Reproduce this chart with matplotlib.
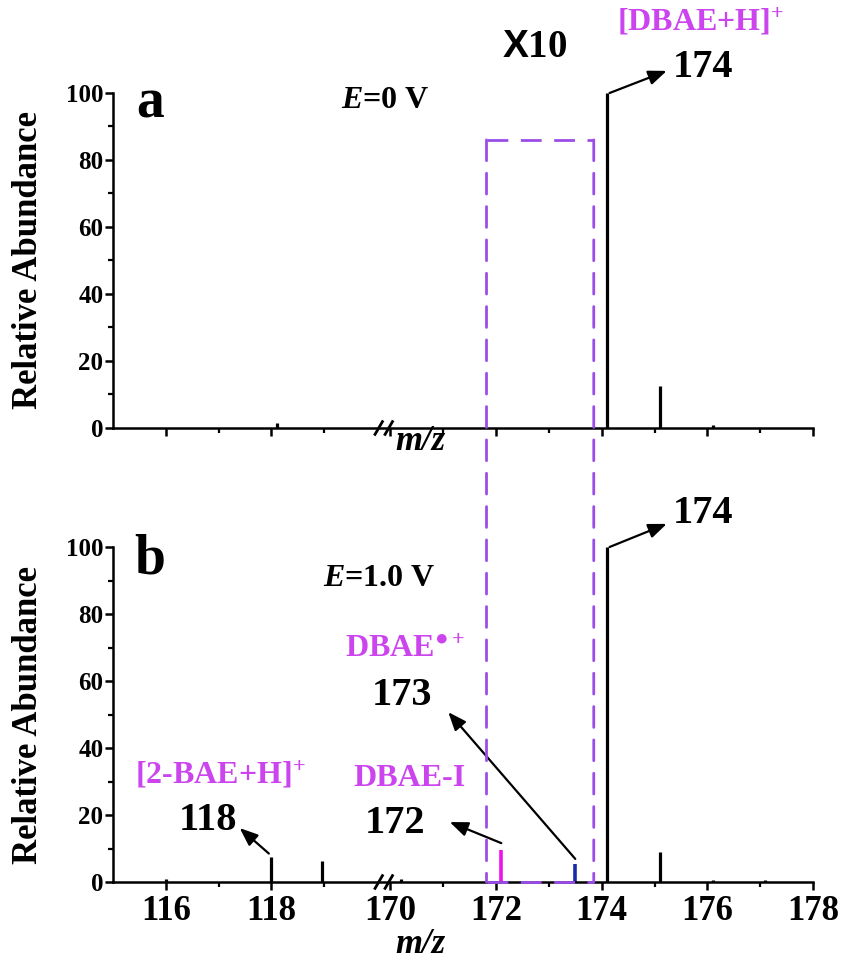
import numpy as np
import matplotlib
matplotlib.use("Agg")
import matplotlib.pyplot as plt
from matplotlib.patches import ConnectionPatch
from matplotlib.ticker import FixedLocator, MultipleLocator

plt.rcParams.update({
    "font.family": "Liberation Serif", "font.weight": "bold",
    "mathtext.fontset": "custom",
    "mathtext.rm": "Liberation Serif:bold",
    "mathtext.it": "Liberation Serif:italic:bold",
    "mathtext.bf": "Liberation Serif:bold",
    "mathtext.sf": "Liberation Sans:bold",
    "axes.linewidth": 1.8,
})

TOP_MZ = [118.1, 174.1, 175.1, 176.1]
TOP_INT = [1.5, 100.0, 12.5, 1.0]
BOT_MZ = [116.0, 118.0, 118.95, 170.2, 174.1, 175.1, 176.1, 177.1]
BOT_INT = [0.8, 7.5, 6.3, 0.8, 100.0, 9.0, 0.6, 0.5]
X10_MZ = [172.1, 173.5]          # picos dentro de la zona x10
X10_INT = [9.6, 5.4]
X10_COLORS = ["#f010e8", "#1a2aa8"]
BOX_LEFT, BOX_RIGHT, BOX_TOP = 171.82, 173.85, 86.0
MAJOR = [116, 118, 170, 172, 174, 176, 178]
MINOR = [117, 119, 171, 173, 175, 177]
YTICKS = [0, 20, 40, 60, 80, 100]

MAG = "#cc44ee"
PURPLE = "#9b4de8"
DASH = (0, (7.5, 4.5))
GAP = 0.25


def pos(m):
    """eje roto: 115-120 | 170-178"""
    m = np.asarray(m, float)
    return np.where(m < 145, m - 115, m - 170 + 5 + GAP)


fig = plt.figure(figsize=(8.47, 9.65), dpi=100)
ax1 = fig.add_axes([113 / 847, 1 - 428 / 965, 700 / 847, 335 / 965])
ax2 = fig.add_axes([113 / 847, 1 - 882 / 965, 700 / 847, 335 / 965])

for ax in (ax1, ax2):
    ax.spines[["top", "right"]].set_visible(False)
    ax.set_xlim(0, float(pos(178)))
    ax.set_ylim(0, 100)
    ax.xaxis.set_major_locator(FixedLocator(pos(MAJOR)))
    ax.xaxis.set_minor_locator(FixedLocator(pos(MINOR)))
    ax.set_xticklabels([str(v) for v in MAJOR])
    ax.set_yticks(YTICKS)
    ax.yaxis.set_minor_locator(MultipleLocator(10))
    ax.tick_params(which="major", direction="out", length=6, width=1.8)
    ax.tick_params(which="minor", direction="out", length=3.5, width=1.6)
    ax.tick_params(axis="y", labelsize=18, pad=1)
    ax.tick_params(axis="x", labelsize=25, pad=3)
    ax.text(-0.121, 0.5, "Relative Abundance", transform=ax.transAxes, rotation=90,
            ha="center", va="center", fontsize=25)
    # marcas de corte //
    for p in (5.03, 5.22):
        ax.plot([p - 0.07, p + 0.07], [-1.9, 1.9], color="k", lw=2.0,
                clip_on=False, zorder=5)
ax1.tick_params(labelbottom=False)

# picos
ax1.vlines(pos(TOP_MZ), 0, TOP_INT, color="k", lw=2.3)
ax2.vlines(pos(BOT_MZ), 0, BOT_INT, color="k", lw=2.3)
ax2.vlines(pos(X10_MZ), 0, X10_INT, colors=X10_COLORS, lw=2.6)

# recuadro x10 que cruza ambos paneles
for xb in (BOX_LEFT, BOX_RIGHT):
    cp = ConnectionPatch(xyA=(float(pos(xb)), BOX_TOP), coordsA=ax1.transData,
                         xyB=(float(pos(xb)), 0), coordsB=ax2.transData,
                         color=PURPLE, lw=2.0, linestyle=DASH, zorder=6)
    fig.add_artist(cp)
ax1.plot(pos([BOX_LEFT, BOX_RIGHT]), [BOX_TOP, BOX_TOP], color=PURPLE, lw=2.0,
         ls=DASH, clip_on=False)
ax2.plot(pos([BOX_LEFT, BOX_RIGHT]), [0, 0], color=PURPLE, lw=2.0, ls=DASH,
         clip_on=False, zorder=4)

AP = dict(arrowstyle="-|>,head_length=0.55,head_width=0.22", color="k", lw=1.6,
          shrinkA=0, shrinkB=0, mutation_scale=20)


def arrow(ax, tail, head):
    ax.annotate("", xy=head, xycoords="axes fraction", xytext=tail,
                textcoords="data", arrowprops=AP, annotation_clip=False)


def label(ax, x, y, s, size, color="k", ha="center", **kw):
    ax.text(x, y, s, transform=ax.transAxes, fontsize=size, color=color,
            ha=ha, va="center", **kw)


# ---- panel a ----
label(ax1, 0.053, 0.97, "a", 40)
label(ax1, 0.389, 0.979, "$E$=0 V", 23)
label(ax1, 0.603, 1.137, r"$\mathsf{X}$10", 28)
label(ax1, 0.839, 1.212, "[DBAE+H]$^{+}$", 23, MAG)
label(ax1, 0.799, 1.075, "174", 29, ha="left")
arrow(ax1, (float(pos(174.1)) + 0.05, 100), (0.791, 1.066))
label(ax1, 0.439, -0.04, "m/z", 25, fontstyle="italic")

# ---- panel b ----
label(ax2, 0.053, 0.964, "b", 40)
label(ax2, 0.381, 0.907, "$E$=1.0 V", 23)
label(ax2, 0.799, 1.101, "174", 29, ha="left")
arrow(ax2, (float(pos(174.1)) + 0.05, 100), (0.791, 1.069))
label(ax2, 0.417, 0.693, "DBAE$^{\u25cf+}$", 23, MAG)
label(ax2, 0.413, 0.558, "173", 29)
arrow(ax2, (float(pos(X10_MZ[1])), X10_INT[1] + 1.5), (0.479, 0.507))
label(ax2, 0.424, 0.310, "DBAE-I", 23, MAG)
label(ax2, 0.403, 0.176, "172", 29)
arrow(ax2, (float(pos(X10_MZ[0])), X10_INT[0] + 2.0), (0.481, 0.179))
label(ax2, 0.153, 0.319, "[2-BAE+H]$^{+}$", 23, MAG)
label(ax2, 0.136, 0.185, "118", 29)
arrow(ax2, (float(pos(BOT_MZ[1])) - 0.05, BOT_INT[1] + 1.0), (0.181, 0.161))
label(ax2, 0.439, -0.188, "m/z", 25, fontstyle="italic")

fig.savefig("out.png", dpi=100)
